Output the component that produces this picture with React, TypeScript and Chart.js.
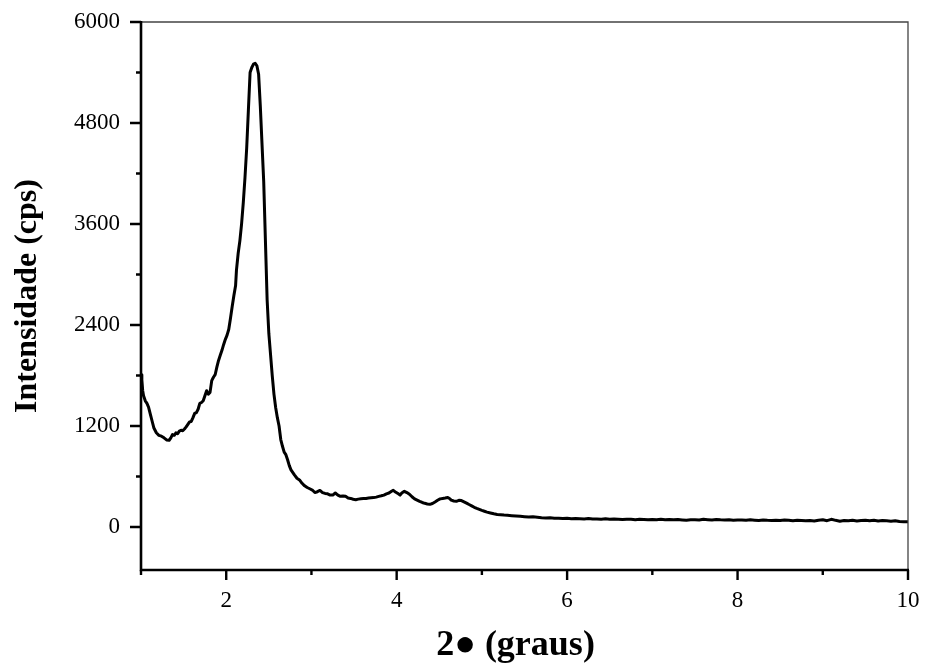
import { useEffect, useRef } from "react";
import { Chart, registerables } from "chart.js";

Chart.register(...registerables);

// 2θ (graus)
const twoTheta = [
  1.0, 1.01, 1.02, 1.03, 1.05, 1.07, 1.09, 1.11, 1.13, 1.15, 1.18, 1.21, 1.24, 1.27, 1.3, 1.33, 1.35, 1.37, 1.39,
  1.41, 1.43, 1.45, 1.47, 1.49, 1.51, 1.53, 1.55, 1.57, 1.59, 1.61, 1.63, 1.65, 1.67, 1.69, 1.71, 1.73, 1.75, 1.77,
  1.79, 1.81, 1.83, 1.85, 1.87, 1.89, 1.91, 1.93, 1.95, 1.97, 1.99, 2.01, 2.03, 2.05, 2.07, 2.09, 2.11, 2.12, 2.14,
  2.16, 2.18, 2.2, 2.22, 2.24, 2.26, 2.28, 2.3, 2.32, 2.34, 2.36, 2.38, 2.4, 2.42, 2.44, 2.46, 2.48, 2.5, 2.52, 2.54,
  2.56, 2.58, 2.6, 2.62, 2.64, 2.66, 2.68, 2.7, 2.72, 2.74, 2.76, 2.78, 2.8, 2.83, 2.86, 2.89, 2.92, 2.95, 2.98,
  3.01, 3.04, 3.07, 3.1, 3.13, 3.16, 3.19, 3.22, 3.25, 3.28, 3.31, 3.34, 3.37, 3.4, 3.43, 3.46, 3.49, 3.52, 3.55,
  3.58, 3.61, 3.64, 3.67, 3.7, 3.73, 3.76, 3.79, 3.82, 3.85, 3.88, 3.91, 3.94, 3.96, 3.98, 4.0, 4.02, 4.04, 4.06,
  4.09, 4.12, 4.15, 4.18, 4.21, 4.24, 4.27, 4.3, 4.33, 4.36, 4.39, 4.42, 4.45, 4.48, 4.51, 4.54, 4.57, 4.6, 4.62,
  4.64, 4.67, 4.7, 4.73, 4.76, 4.79, 4.82, 4.85, 4.88, 4.91, 4.94, 4.97, 5.0, 5.03, 5.06, 5.1, 5.14, 5.18, 5.22,
  5.26, 5.3, 5.35, 5.4, 5.45, 5.5, 5.55, 5.6, 5.65, 5.7, 5.75, 5.8, 5.85, 5.9, 5.95, 6.0, 6.05, 6.1, 6.15, 6.2,
  6.25, 6.3, 6.35, 6.4, 6.45, 6.5, 6.55, 6.6, 6.65, 6.7, 6.75, 6.8, 6.85, 6.9, 6.95, 7.0, 7.05, 7.1, 7.15, 7.2,
  7.25, 7.3, 7.35, 7.4, 7.45, 7.5, 7.55, 7.6, 7.65, 7.7, 7.75, 7.8, 7.85, 7.9, 7.95, 8.0, 8.05, 8.1, 8.15, 8.2,
  8.25, 8.3, 8.35, 8.4, 8.45, 8.5, 8.55, 8.6, 8.65, 8.7, 8.75, 8.8, 8.85, 8.9, 8.95, 9.0, 9.05, 9.1, 9.15, 9.2,
  9.25, 9.3, 9.35, 9.4, 9.45, 9.5, 9.55, 9.6, 9.65, 9.7, 9.75, 9.8, 9.85, 9.9, 9.95, 10.0,
];

// Intensidade (cps)
const intensity = [
  1810, 1750, 1620, 1560, 1500, 1470, 1420, 1340, 1260, 1180, 1120, 1090, 1080, 1060, 1035, 1030, 1060, 1100, 1090,
  1120, 1110, 1140, 1150, 1145, 1165, 1190, 1220, 1250, 1255, 1300, 1350, 1360, 1400, 1470, 1480, 1500, 1560, 1620,
  1580, 1600, 1740, 1780, 1810, 1900, 1980, 2040, 2100, 2170, 2230, 2280, 2350, 2480, 2620, 2750, 2870, 3050, 3250,
  3400, 3600, 3850, 4150, 4500, 4950, 5400, 5460, 5500, 5510, 5480, 5380, 5000, 4550, 4100, 3400, 2700, 2300, 2050, 1800,
  1580, 1420, 1300, 1200, 1040, 960, 890, 860, 800, 730, 680, 650, 620, 580, 560, 520, 490, 470, 455,
  440, 410, 420, 435, 410, 400, 395, 380, 380, 405, 380, 365, 370, 365, 345, 340, 330, 325, 332,
  336, 338, 340, 345, 348, 350, 356, 365, 372, 380, 395, 405, 425, 437, 420, 408, 395, 380, 405,
  425, 410, 390, 360, 335, 320, 305, 292, 282, 275, 270, 280, 298, 318, 335, 340, 345, 352, 340,
  320, 310, 306, 318, 315, 300, 285, 268, 252, 235, 222, 210, 198, 188, 178, 168, 158, 150, 146,
  142, 139, 135, 131, 128, 123, 119, 122, 118, 112, 108, 110, 104, 106, 102, 104, 99, 101, 100, 97,
  102, 95, 97, 94, 98, 92, 95, 93, 90, 94, 92, 88, 93, 90, 86, 90, 88, 92, 86, 89,
  87, 90, 85, 80, 86, 88, 84, 92, 88, 84, 90, 86, 84, 88, 82, 85, 84, 80, 86, 82,
  78, 84, 80, 78, 82, 78, 84, 80, 76, 80, 78, 74, 78, 72, 82, 86, 76, 92, 80, 70,
  78, 74, 80, 72, 78, 82, 74, 80, 72, 78, 74, 70, 76, 66, 64, 62,
];

const xMajorTicks = [2, 4, 6, 8, 10];
const xMinorTicks = [1, 3, 5, 7, 9];
const yMajorTicks = [0, 1200, 2400, 3600, 4800, 6000];
const yMinorTicks = [600, 1800, 3000, 4200, 5400];
const xTitle = "2\u25CF (graus)  ";
const yTitle = "Intensidade (cps)";

const SERIF = "'Liberation Serif', 'Times New Roman', serif";

const framePlugin = {
  id: "frame",
  afterDraw(chart: any) {
    const { ctx, chartArea, scales } = chart;
    const { left, right, top, bottom } = chartArea;
    const xs = scales.x;
    const ys = scales.y;
    ctx.save();
    // thin top and right frame
    ctx.strokeStyle = "#444";
    ctx.lineWidth = 1.3;
    ctx.beginPath();
    ctx.moveTo(left, top);
    ctx.lineTo(right, top);
    ctx.lineTo(right, bottom);
    ctx.stroke();
    // thick left and bottom axes
    ctx.strokeStyle = "#000";
    ctx.lineWidth = 2.6;
    ctx.beginPath();
    ctx.moveTo(left, top - 1);
    ctx.lineTo(left, bottom);
    ctx.lineTo(right + 1, bottom);
    ctx.stroke();
    // ticks
    ctx.lineWidth = 2.4;
    ctx.beginPath();
    yMajorTicks.forEach((v) => {
      const py = ys.getPixelForValue(v);
      ctx.moveTo(left - 11, py);
      ctx.lineTo(left, py);
    });
    yMinorTicks.forEach((v) => {
      const py = ys.getPixelForValue(v);
      ctx.moveTo(left - 5, py);
      ctx.lineTo(left, py);
    });
    xMajorTicks.forEach((v) => {
      const px = xs.getPixelForValue(v);
      ctx.moveTo(px, bottom);
      ctx.lineTo(px, bottom + 10);
    });
    xMinorTicks.forEach((v) => {
      const px = xs.getPixelForValue(v);
      ctx.moveTo(px, bottom);
      ctx.lineTo(px, bottom + 5);
    });
    ctx.stroke();
    ctx.restore();
  },
};

export default function App() {
  const ref = useRef<HTMLCanvasElement | null>(null);

  useEffect(() => {
    if (!ref.current) return;
    const points = twoTheta.map((t, i) => ({ x: t, y: intensity[i] }));
    const chart = new Chart(ref.current, {
      type: "line",
      data: {
        datasets: [
          {
            data: points,
            borderColor: "#000",
            borderWidth: 3,
            pointRadius: 0,
            tension: 0,
            borderJoinStyle: "round",
            borderCapStyle: "round",
            fill: false,
          },
        ],
      },
      options: {
        animation: false,
        responsive: true,
        maintainAspectRatio: false,
        parsing: false,
        layout: { padding: { top: 22, right: 19, left: 0, bottom: 0 } },
        plugins: {
          legend: { display: false },
          tooltip: { enabled: false },
        },
        scales: {
          x: {
            type: "linear",
            min: 1,
            max: 10,
            grid: { display: false, drawTicks: false },
            border: { display: false },
            afterBuildTicks: (s: any) => {
              s.ticks = xMajorTicks.map((v) => ({ value: v }));
            },
            afterFit: (s: any) => {
              s.height = 94;
              s.paddingLeft = 0;
              s.paddingRight = 0;
            },
            ticks: {
              autoSkip: false,
              maxRotation: 0,
              padding: 17,
              color: "#000",
              font: { family: SERIF, size: 23 },
              callback: (v: any) => String(v),
            },
            title: {
              display: true,
              text: xTitle,
              color: "#000",
              font: { family: SERIF, size: 36, weight: "bold", lineHeight: 1 },
              padding: { top: 1, bottom: 0 },
            },
          },
          y: {
            type: "linear",
            min: -510,
            max: 6000,
            grid: { display: false, drawTicks: false },
            border: { display: false },
            afterBuildTicks: (s: any) => {
              s.ticks = yMajorTicks.map((v) => ({ value: v }));
            },
            afterFit: (s: any) => {
              s.width = 141;
              s.paddingTop = 0;
              s.paddingBottom = 0;
            },
            ticks: {
              autoSkip: false,
              padding: 21,
              color: "#000",
              font: { family: SERIF, size: 23 },
              callback: (v: any) => String(v),
            },
            title: {
              display: true,
              text: yTitle,
              color: "#000",
              font: { family: SERIF, size: 32, weight: "bold", lineHeight: 1 },
              padding: { top: 12, bottom: 0 },
            },
          },
        },
      },
      plugins: [framePlugin],
    });
    return () => chart.destroy();
  }, []);

  return (
    <div style={{ position: "fixed", left: 0, top: 0, width: 927, height: 664, background: "#fff" }}>
      <canvas ref={ref} />
    </div>
  );
}
